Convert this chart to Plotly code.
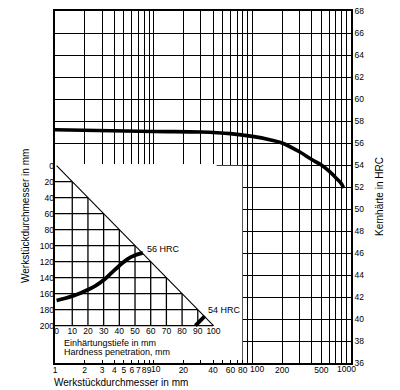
import math
import plotly.graph_objects as go

# ---- main chart data ----
x_grid_vals = [1, 2, 3, 4, 5, 6, 7, 8, 9, 10, 20, 30, 40, 50, 60, 70, 80, 90,
               100, 200, 300, 400, 500, 600, 700, 800, 900, 1000]
x_grid_text = ['1', '2', '3', '4', '5', '6', '7', '8', '9', '', '20', '', '40', '', '60', '', '80', '',
               '', '200', '', '', '500', '', '', '', '', '']
# labels the original sets slightly off their grid line (value, text, pixel shift)
x_shifted_labels = [(10, '10', 2.5), (100, '100', 5), (1000, '1000', -5)]
hrc_ticks = list(range(36, 70, 2))

diameter = [1, 10, 30, 60, 100, 150, 200, 300, 400, 500, 600, 700, 800, 840]
core_hardness = [57.2, 57.05, 57.0, 56.85, 56.6, 56.3, 56.0, 55.2, 54.5, 54.0, 53.45, 52.85, 52.3, 51.9]

# ---- inset data ----
inset_x_ticks = [0, 10, 20, 30, 40, 50, 60, 70, 80, 90, 100]
inset_y_ticks = [0, 20, 40, 60, 80, 100, 120, 140, 160, 180, 200]

pen_56 = [0, 5, 10, 15, 20, 25, 30, 35, 40, 45, 50, 55]
dia_56 = [168.5, 166, 163, 159.5, 155, 150, 143, 134, 125, 117, 112, 109]
pen_54 = [88.5, 94.5]
dia_54 = [200, 188]

FONT = "Liberation Sans, Arial, sans-serif"
TICK = 8.5
W, H = 400, 390
L, R, T, B = 55, 49, 11, 27
PW, PH = W - L - R, H - T - B


def px2paper_x(px):
    return (px - L) / PW


def px2paper_y(py):
    return (H - B - py) / PH


fig = go.Figure()

# main curve
fig.add_trace(go.Scatter(x=diameter, y=core_hardness, mode='lines',
                         line=dict(color='black', width=3.6, shape='spline'),
                         xaxis='x', yaxis='y', hoverinfo='skip', showlegend=False))

# inset grid (only in the lower-left triangle under the diagonal)
gx, gy = [], []
for v in inset_x_ticks[1:-1]:
    gx += [v, v, None]
    gy += [200, 2 * v, None]
for v in inset_y_ticks[1:-1]:
    gx += [-1, v / 2, None]
    gy += [v, v, None]
gx += [-1, 100, None]
gy += [200, 200, None]
fig.add_trace(go.Scatter(x=gx, y=gy, mode='lines', line=dict(color='black', width=1.3),
                         xaxis='x2', yaxis='y3', hoverinfo='skip', showlegend=False))
# diagonal
fig.add_trace(go.Scatter(x=[inset_x_ticks[0], inset_x_ticks[-1]], y=[inset_y_ticks[0], inset_y_ticks[-1]],
                         mode='lines', line=dict(color='black', width=1.1),
                         xaxis='x2', yaxis='y3', hoverinfo='skip', showlegend=False))
# inset curves
fig.add_trace(go.Scatter(x=pen_56, y=dia_56, mode='lines',
                         line=dict(color='black', width=3.8, shape='spline'),
                         xaxis='x2', yaxis='y3', hoverinfo='skip', showlegend=False))
fig.add_trace(go.Scatter(x=pen_54, y=dia_54, mode='lines',
                         line=dict(color='black', width=3.8),
                         xaxis='x2', yaxis='y3', hoverinfo='skip', showlegend=False))

ix0 = 55
iunit_x = 1.569
iy0 = 165.7
iunit_y = 0.8

fig.update_layout(
    width=W, height=H, autosize=False,
    margin=dict(l=L, r=R, t=T, b=B, pad=0),
    paper_bgcolor='white', plot_bgcolor='white',
    font=dict(family=FONT, color='black', size=9),
    xaxis=dict(type='log', range=[0, 3], domain=[0, 1], anchor='y',
               tickvals=x_grid_vals, ticktext=x_grid_text,
               showgrid=True, gridcolor='black', gridwidth=1.3,
               showline=True, linecolor='black', linewidth=1.8, mirror=True,
               ticks='inside', ticklen=3, tickwidth=1, tickcolor='black',
               tickfont=dict(size=TICK, family=FONT), zeroline=False,
               tickangle=0, automargin=False, ticklabelstandoff=-2),
    yaxis=dict(range=[36, 68], domain=[0, 1], anchor='x', side='right',
               tickvals=hrc_ticks, showgrid=True, gridcolor='black', gridwidth=1.3,
               showline=True, linecolor='black', linewidth=1.8, mirror=True,
               ticks='', tickfont=dict(size=TICK, family=FONT), zeroline=False,
               automargin=False),
    xaxis2=dict(range=[-1, 102], domain=[0, px2paper_x(ix0 + 103 * iunit_x)], anchor='y3',
                tickvals=inset_x_ticks, showgrid=False, zeroline=False, showline=False,
                ticks='', tickfont=dict(size=TICK, family=FONT), ticklabelstandoff=-3,
                automargin=False),
    yaxis3=dict(range=[202, -2],
                domain=[px2paper_y(iy0 + 202 * iunit_y), px2paper_y(iy0 - 2 * iunit_y)],
                anchor='x2', tickvals=inset_y_ticks, showgrid=False, zeroline=False,
                showline=False, ticks='', tickfont=dict(size=TICK, family=FONT),
                automargin=False),
    shapes=[dict(type='rect', xref='x', yref='y', x0=1, x1=79.2, y0=36, y1=53.93,
                 fillcolor='white', line=dict(width=0), layer='between')],
)

for val, txt, shift in x_shifted_labels:
    fig.add_annotation(text=txt, xref='x', yref='paper', x=math.log10(val), y=px2paper_y(369.3),
                       xanchor='center', yanchor='middle', xshift=shift, showarrow=False,
                       font=dict(family=FONT, size=TICK, color='black'))

annots = [
    dict(text='56 HRC', xref='x2', yref='y3', x=56.5, y=104, xanchor='left', yanchor='middle', size=9),
    dict(text='54 HRC', xref='x2', yref='y3', x=95.2, y=180.5, xanchor='left', yanchor='middle', size=9),
    dict(text='Einhärtungstiefe in mm', xref='paper', yref='paper', x=px2paper_x(62), y=px2paper_y(342.7),
         xanchor='left', yanchor='middle', size=9),
    dict(text='Hardness penetration, mm', xref='paper', yref='paper', x=px2paper_x(62), y=px2paper_y(352),
         xanchor='left', yanchor='middle', size=9),
    dict(text='Werkstückdurchmesser in mm', xref='paper', yref='paper', x=px2paper_x(52), y=px2paper_y(382.5),
         xanchor='left', yanchor='middle', size=10),
    dict(text='Werkstückdurchmesser in mm', xref='paper', yref='paper', x=px2paper_x(25), y=px2paper_y(216),
         xanchor='center', yanchor='middle', size=10, textangle=-90),
    dict(text='Kernhärte in HRC', xref='paper', yref='paper', x=px2paper_x(380), y=px2paper_y(197),
         xanchor='center', yanchor='middle', size=10, textangle=-90),
]
for a in annots:
    size = a.pop('size')
    fig.add_annotation(showarrow=False, font=dict(family=FONT, size=size, color='black'), **a)

fig.write_html("out.html", config={'displayModeBar': False},
               post_script="document.body.style.margin='0px';document.body.style.padding='0px';")
